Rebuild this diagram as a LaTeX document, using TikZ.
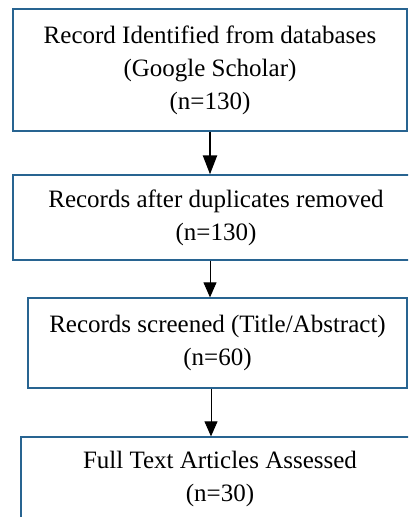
\documentclass[tikz,border=0pt]{standalone}
\usepackage{fontspec}
\setmainfont{Liberation Serif}
\usetikzlibrary{arrows.meta}
\definecolor{boxblue}{RGB}{40,100,145}
\tikzset{
  flowbox/.style={draw=boxblue, line width=1.3pt, rectangle, inner sep=0pt,
    align=center, font=\fontsize{25}{33}\selectfont},
  thickarrow/.style={line width=2.2pt, -{Triangle[width=14pt,length=19pt]}},
  thinarrow/.style={line width=1pt, -{Triangle[width=13pt,length=15pt]}}
}
\begin{document}
\begin{tikzpicture}[x=1pt,y=-1pt]
\useasboundingbox (0,0) rectangle (408,517);
\clip (0,0) rectangle (408,517);
\node[flowbox, minimum width=394pt, minimum height=122pt] (b1) at (210,70)
  {Record Identified from databases\\(Google Scholar)\\(n=130)};
\node[flowbox, minimum width=406pt, minimum height=85pt] (b2) at (216,217.5)
  {Records after duplicates removed\\(n=130)};
\node[flowbox, minimum width=379pt, minimum height=90pt] (b3) at (217.5,343)
  {Records screened (Title/Abstract)\\(n=60)};
\node[flowbox, minimum width=398pt, minimum height=83pt] (b4) at (220,478.5)
  {Full Text Articles Assessed\\(n=30)};
\draw[thickarrow] (b1.south) -- (b1.south |- b2.north);
\draw[thinarrow] (b2.south -| b1.south) -- (b3.north -| b1.south);
\draw[thinarrow] ([xshift=1pt]b3.south -| b1.south) -- ([xshift=1pt]b4.north -| b1.south);
\end{tikzpicture}
\end{document}
